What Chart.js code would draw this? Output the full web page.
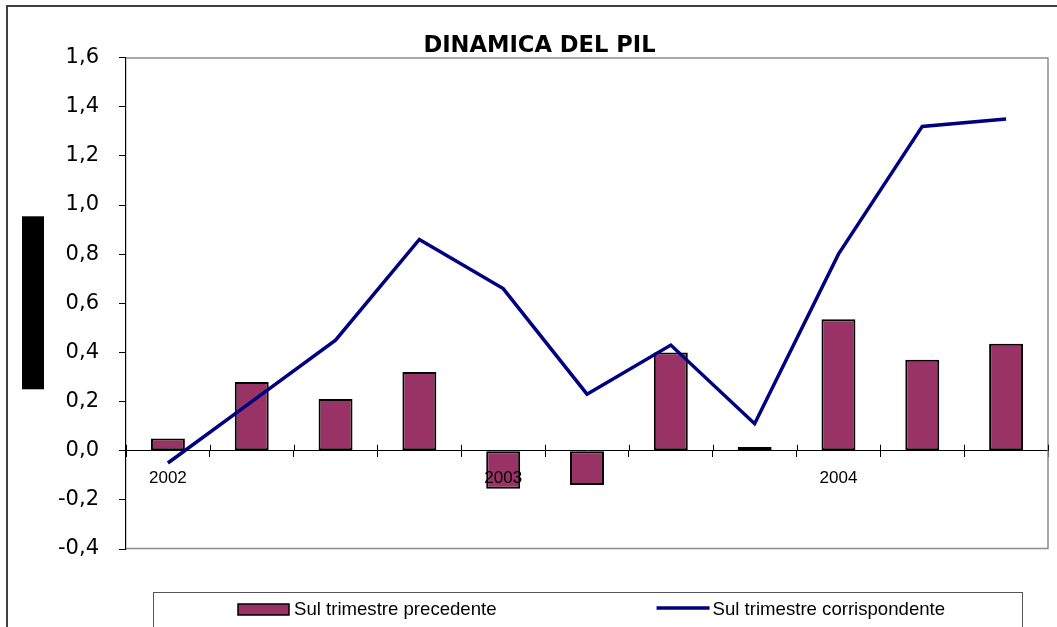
<!DOCTYPE html>
<html>
<head>
<meta charset="utf-8">
<script src="https://cdn.jsdelivr.net/npm/chart.js@4"></script>
<style>
  html, body { margin: 0; padding: 0; background: #fff; }
  #wrap { width: 1057px; height: 627px; }
</style>
</head>
<body>
<div id="wrap"><canvas id="grafico" width="1057" height="627"></canvas></div>
<script>
// trimestri 2002-2004
var trimestri = ['I 2002', 'II 2002', 'III 2002', 'IV 2002', 'I 2003', 'II 2003', 'III 2003', 'IV 2003', 'I 2004', 'II 2004', 'III 2004'];
var etichetteAnni = ['2002', '', '', '', '2003', '', '', '', '2004', '', ''];
var precedente = [0.05, 0.28, 0.21, 0.32, -0.155, -0.14, 0.40, 0.015, 0.535, 0.37, 0.435];
var corrispondente = [-0.05, 0.20, 0.45, 0.86, 0.66, 0.23, 0.43, 0.11, 0.80, 1.32, 1.35];
var tickY = { min: -0.4, max: 1.6, step: 0.2 };

var viola = '#993366';
var blu = '#000080';

// sfondo, cornice e riquadro nero a sinistra
var cornice = {
    id: 'cornice',
    beforeDraw: function (chart) {
        var c = chart.ctx, a = chart.chartArea;
        c.save();
        c.fillStyle = '#fff';
        c.fillRect(0, 0, chart.width, chart.height);
        c.strokeStyle = '#404040';
        c.lineWidth = 2;
        c.strokeRect(7, 6, chart.width + 10, chart.height + 10);
        c.fillStyle = '#000';
        var mid = (a.top + a.bottom) / 2;
        c.fillRect(22, mid - 87, 22, 173);
        c.restore();
    },
    beforeDatasetsDraw: function (chart) {
        var c = chart.ctx, a = chart.chartArea;
        c.save();
        c.strokeStyle = '#8c8c8c';
        c.lineWidth = 1.5;
        c.beginPath();
        c.moveTo(a.left, a.top + 0.5);
        c.lineTo(a.right, a.top + 0.5);
        c.lineTo(a.right, a.bottom - 0.5);
        c.lineTo(a.left, a.bottom - 0.5);
        c.stroke();
        c.restore();
    },
    afterDraw: function (chart) {
        var c = chart.ctx, a = chart.chartArea;
        var x = chart.scales.x, y = chart.scales.y;
        var y0 = y.getPixelForValue(0);
        var passo = x.getPixelForValue(1) - x.getPixelForValue(0);
        c.save();
        // tacche sopra l'asse x
        c.strokeStyle = '#000';
        c.lineWidth = 1;
        c.beginPath();
        for (var i = 0; i <= trimestri.length; i++) {
            var px = Math.round(x.getPixelForValue(i) - passo / 2) + 0.5;
            c.moveTo(px, y0 - 6);
            c.lineTo(px, y0);
        }
        c.stroke();

        // legenda
        var ds = chart.data.datasets;
        var centro = (a.left + a.right) / 2;
        var top = a.bottom + 43;
        c.strokeStyle = '#555';
        c.lineWidth = 1;
        c.strokeRect(Math.round(centro - 434) + 0.5, top + 0.5, 869, 60);
        c.font = '18.6px "Liberation Sans", Arial, sans-serif';
        c.textBaseline = 'middle';
        var larg = [c.measureText(ds[0].label).width, c.measureText(ds[1].label).width];
        var totale = 51 + 5 + larg[0] + 160 + 53 + 3 + larg[1];
        var cx = Math.round(centro - totale / 2) + 5;
        var cy = top + 17;
        c.fillStyle = viola;
        c.fillRect(cx, cy - 5, 51, 11);
        c.strokeStyle = '#000';
        c.lineWidth = 1.5;
        c.strokeRect(cx, cy - 5, 51, 11);
        c.fillStyle = '#000';
        c.fillText(ds[0].label, cx + 56, cy + 1);
        cx += 56 + larg[0] + 160;
        c.strokeStyle = blu;
        c.lineWidth = 3.5;
        c.beginPath();
        c.moveTo(cx, cy - 1);
        c.lineTo(cx + 53, cy - 1);
        c.stroke();
        c.fillStyle = '#000';
        c.fillText(ds[1].label, cx + 56, cy + 1);
        c.restore();
    }
};

var ctx = document.getElementById('grafico');
window.grafico = new Chart(ctx, {
    type: 'bar',
    data: {
        labels: trimestri,
        datasets: [
            {
                type: 'bar',
                label: 'Sul trimestre precedente',
                data: precedente,
                backgroundColor: viola,
                borderColor: '#000',
                borderWidth: 2,
                borderSkipped: false,
                barPercentage: 0.405,
                categoryPercentage: 1,
                order: 1
            },
            {
                type: 'line',
                label: 'Sul trimestre corrispondente',
                data: corrispondente,
                borderColor: blu,
                backgroundColor: blu,
                borderWidth: 3.5,
                pointRadius: 0,
                tension: 0,
                fill: false,
                order: 0
            }
        ]
    },
    options: {
        responsive: false,
        animation: false,
        layout: { padding: { left: 31, right: 9, top: 0, bottom: 78 } },
        plugins: {
            legend: { display: false },
            tooltip: { enabled: false },
            title: {
                display: true,
                text: 'DINAMICA DEL PIL',
                color: '#000',
                font: { family: '"DejaVu Sans", Verdana, sans-serif', size: 22.6, weight: 'bold', lineHeight: 1 },
                padding: { top: 35, bottom: 0 }
            }
        },
        scales: {
            x: {
                position: { y: 0 },
                offset: true,
                grid: { offset: true, drawOnChartArea: false, tickLength: 6, color: '#000', lineWidth: 1 },
                border: { color: '#000', width: 1 },
                ticks: {
                    z: 1,
                    autoSkip: false,
                    maxRotation: 0,
                    padding: 11,
                    color: '#000',
                    font: { family: '"Liberation Sans", Arial, sans-serif', size: 17 },
                    callback: function (v, i) { return etichetteAnni[i]; }
                }
            },
            y: {
                min: tickY.min,
                max: tickY.max,
                grid: { drawOnChartArea: false, tickLength: 7, color: '#000', lineWidth: 1 },
                border: { color: '#000', width: 1.2 },
                ticks: {
                    stepSize: tickY.step,
                    padding: 20,
                    color: '#000',
                    font: { family: '"DejaVu Sans", Verdana, sans-serif', size: 21 },
                    callback: function (v) { return v.toFixed(1).replace('.', ','); }
                },
                afterFit: function (s) { s.width = 95; }
            }
        }
    },
    plugins: [cornice]
});
</script>
</body>
</html>
